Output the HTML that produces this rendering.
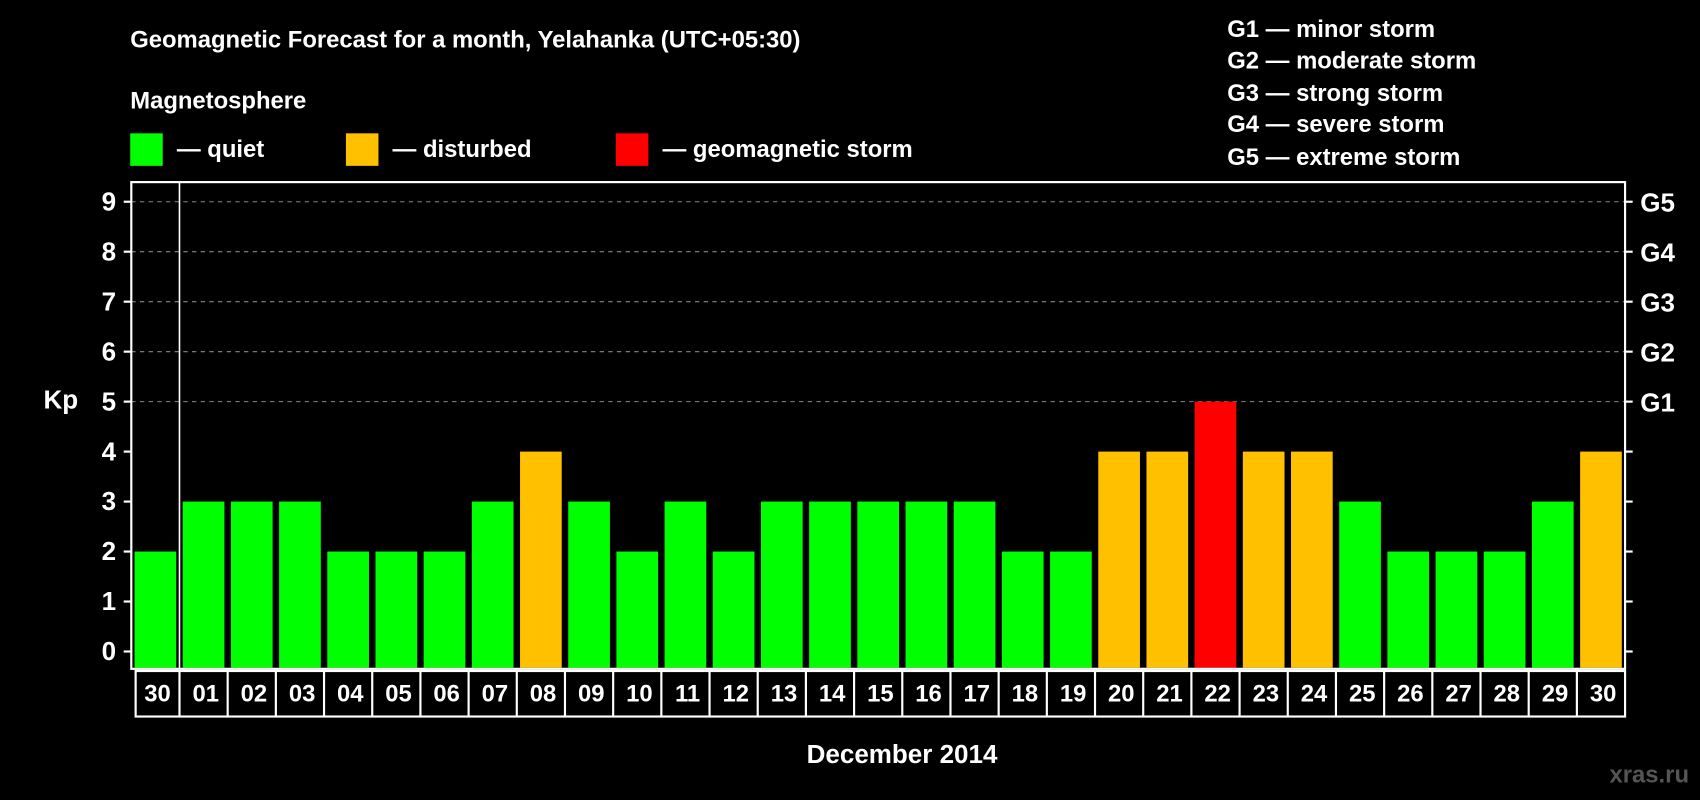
<!DOCTYPE html>
<html><head><meta charset="utf-8"><style>
html,body{margin:0;padding:0;background:#000;}
svg{display:block;font-family:"Liberation Sans",Arial,sans-serif;font-weight:bold;}
</style></head><body>
<svg id="chart" width="1700" height="800" viewBox="0 0 1568 738" xmlns="http://www.w3.org/2000/svg">
<rect width="1568" height="738" fill="#000"/>
<text x="120" y="44" fill="#fff" font-size="22">Geomagnetic Forecast for a month, Yelahanka (UTC+05:30)</text>
<text x="120" y="100" fill="#fff" font-size="22">Magnetosphere</text>
<g><rect x="120" y="123" width="30" height="30" fill="#00ff00"/><text x="163" y="145" fill="#fff" font-size="22">— quiet</text></g>
<g><rect x="319" y="123" width="30" height="30" fill="#ffc000"/><text x="362" y="145" fill="#fff" font-size="22">— disturbed</text></g>
<g><rect x="568" y="123" width="30" height="30" fill="#ff0000"/><text x="611" y="145" fill="#fff" font-size="22">— geomagnetic storm</text></g>
<g fill="#fff" font-size="22">
<text x="1132" y="34">G1 — minor storm</text>
<text x="1132" y="63">G2 — moderate storm</text>
<text x="1132" y="93">G3 — strong storm</text>
<text x="1132" y="122">G4 — severe storm</text>
<text x="1132" y="152">G5 — extreme storm</text>
</g>
<text x="40" y="377" fill="#fff" font-size="24">Kp</text>
<text x="832" y="704" fill="#fff" font-size="24" text-anchor="middle">December 2014</text>
<text x="1558" y="722" fill="#555" font-size="22" text-anchor="end">xras.ru</text>
<g id="grid"></g><g id="bars"></g><g id="axes"></g>
</svg>
<script>
const days=["30","01","02","03","04","05","06","07","08","09","10","11","12","13","14","15","16","17","18","19","20","21","22","23","24","25","26","27","28","29","30"];
const kp=[2,3,3,3,2,2,2,3,4,3,2,3,2,3,3,3,3,3,2,2,4,4,5,4,4,3,2,2,2,3,4];
const yTicks=[0,1,2,3,4,5,6,7,8,9];
const gLabels=["G1","G2","G3","G4","G5"];
const NS="http://www.w3.org/2000/svg";
const L=121,R=1499,T=168,B=617;
const slot=(R-L)/days.length;
const y=v=>601-v*46.1;
const x=i=>L+i*slot;
function mk(t,a,p){const e=document.createElementNS(NS,t);for(const k in a)e.setAttribute(k,a[k]);p.appendChild(e);return e;}
const grid=document.getElementById('grid'),bars=document.getElementById('bars'),axes=document.getElementById('axes');
for(let v=5;v<=9;v++){const l=mk('line',{x1:L,x2:R,y1:y(v),y2:y(v),stroke:'#888','stroke-dasharray':'4,4','stroke-width':1},grid);

}
kp.forEach((v,i)=>{const c=v>=5?'#ff0000':(v>=4?'#ffc000':'#00ff00');
const r=mk('rect',{x:x(i)+3,y:y(v),width:slot-6,height:B-1-y(v),fill:c},bars);

});
mk('rect',{x:L,y:T,width:R-L,height:B-T,fill:'none',stroke:'#fff','stroke-width':2},axes);
mk('line',{x1:x(1),x2:x(1),y1:T,y2:B,stroke:'#fff','stroke-width':1.5},axes);
yTicks.forEach(v=>{mk('line',{x1:L-7,x2:L,y1:y(v),y2:y(v),stroke:'#fff','stroke-width':2},axes);
const t=mk('text',{x:L-14,y:y(v)+8,fill:'#fff','font-size':24,'text-anchor':'end'},axes);t.textContent=v;


mk('line',{x1:R,x2:R+7,y1:y(v),y2:y(v),stroke:'#fff','stroke-width':2},axes);});
gLabels.forEach((g,i)=>{const t=mk('text',{x:R+14,y:y(i+5)+9,fill:'#fff','font-size':24},axes);t.textContent=g;

});
mk('rect',{x:L+4,y:B+2,width:R-L-4,height:42,fill:'none',stroke:'#fff','stroke-width':2},axes);
days.forEach((d,i)=>{if(i>0)mk('line',{x1:x(i),x2:x(i),y1:B+2,y2:B+44,stroke:'#fff','stroke-width':2},axes);
const t=mk('text',{x:x(i)+slot/2+2,y:B+30,fill:'#fff','font-size':22,'text-anchor':'middle'},axes);t.textContent=d;

});
</script>
</body></html>
